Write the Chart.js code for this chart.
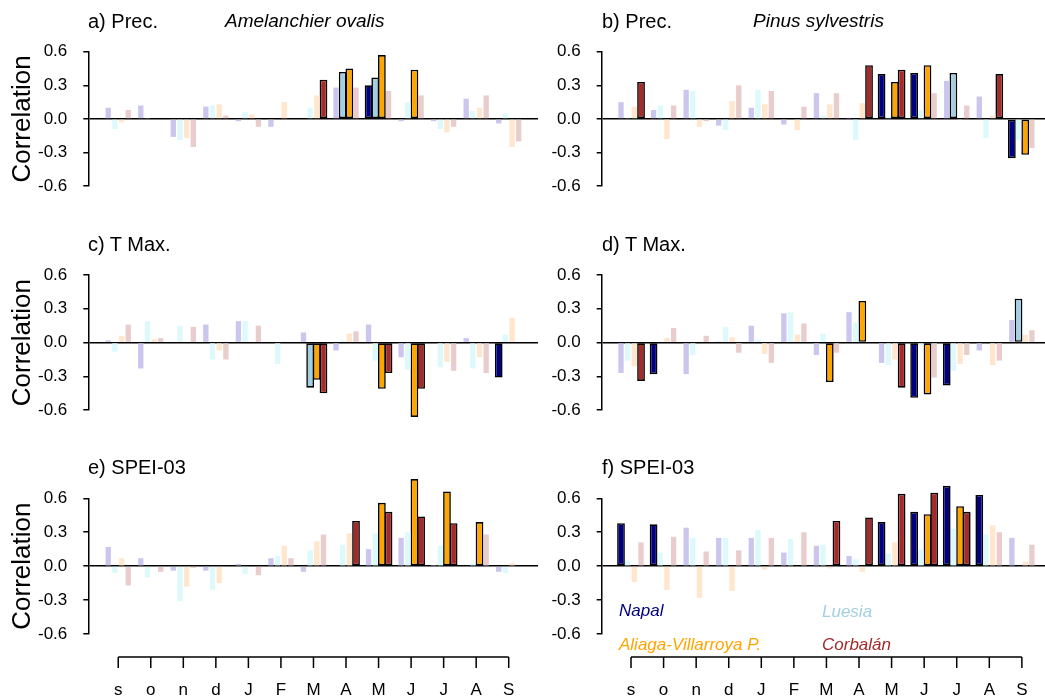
<!DOCTYPE html>
<html>
<head>
<meta charset="utf-8">
<script src="https://cdn.jsdelivr.net/npm/chart.js@4.4.1/dist/chart.umd.min.js"></script>
<style>
  body { margin: 0; background: #fff; }
  #wrap { position: relative; width: 1045px; height: 699px; overflow: hidden; font-family: 'Liberation Sans', Arial, sans-serif; }
  canvas { position: absolute; }
  .t { position: absolute; font-size: 20px; line-height: 20px; color: #000; white-space: nowrap; }
  .sp { font-size: 19px; line-height: 19px; font-style: italic; }
  .lg { position: absolute; font-size: 17px; line-height: 17px; font-style: italic; white-space: nowrap; }
</style>
</head>
<body>
<div id="wrap">
  <canvas id="pa" width="545" height="215" style="left:0;top:0"></canvas>
  <canvas id="pb" width="500" height="215" style="left:545px;top:0"></canvas>
  <canvas id="pc" width="545" height="215" style="left:0;top:223px"></canvas>
  <canvas id="pd" width="500" height="215" style="left:545px;top:223px"></canvas>
  <canvas id="pe" width="545" height="252" style="left:0;top:447px"></canvas>
  <canvas id="pf" width="500" height="252" style="left:545px;top:447px"></canvas>

  <div class="t" style="left:88px;top:10.6px">a) Prec.</div>
  <div class="t sp" style="left:225px;top:11.4px">Amelanchier ovalis</div>
  <div class="t" style="left:602px;top:10.6px">b) Prec.</div>
  <div class="t sp" style="left:753px;top:11.4px">Pinus sylvestris</div>
  <div class="t" style="left:88px;top:233.6px">c) T Max.</div>
  <div class="t" style="left:602px;top:233.6px">d) T Max.</div>
  <div class="t" style="left:88px;top:457px">e) SPEI-03</div>
  <div class="t" style="left:602px;top:457px">f) SPEI-03</div>

  <div class="lg" style="left:619px;top:602px;color:#000080">Napal</div>
  <div class="lg" style="left:822px;top:603px;color:#a3cfe3">Luesia</div>
  <div class="lg" style="left:619px;top:635.5px;color:#ffa500">Aliaga-Villarroya P.</div>
  <div class="lg" style="left:822px;top:635.5px;color:#a52a2a">Corbalán</div>
</div>
<script>
// ---- data ----
const months = ['s', 'o', 'n', 'd', 'J', 'F', 'M', 'A', 'M', 'J', 'J', 'A', 'S'];
const yTicks = [-0.6, -0.3, 0, 0.3, 0.6];
const sites = ['Napal', 'Luesia', 'Aliaga-Villarroya P.', 'Corbalán'];

// a) Prec. - Amelanchier ovalis
const precAmNapal    = [0.10, 0.12, -0.16, 0.11, -0.02, -0.07, 0.00, 0.28, 0.30, -0.02, -0.02, 0.18, -0.04];
const precAmLuesia   = [-0.09, 0.01, -0.19, 0.12, 0.06, 0.00, 0.10, 0.42, 0.37, 0.15, -0.09, 0.07, 0.05];
const precAmAliaga   = [-0.03, 0.00, -0.17, 0.13, 0.04, 0.15, 0.21, 0.45, 0.57, 0.44, -0.12, 0.10, -0.25];
const precAmCorbalan = [0.08, 0.00, -0.25, 0.03, -0.07, 0.00, 0.35, 0.28, 0.25, 0.21, -0.07, 0.21, -0.20];
const precAmSig = [[8], [7, 8], [7, 8, 9], [6]];

// b) Prec. - Pinus sylvestris
const precPsNapal    = [0.15, 0.08, 0.26, -0.06, 0.10, -0.05, 0.23, 0.01, 0.40, 0.41, 0.34, 0.20, -0.35];
const precPsLuesia   = [0.01, 0.12, 0.25, -0.10, 0.26, 0.00, 0.03, -0.19, 0.02, 0.08, 0.41, -0.17, -0.19];
const precPsAliaga   = [0.11, -0.18, -0.07, 0.16, 0.13, -0.10, 0.13, 0.14, 0.33, 0.48, -0.01, 0.03, -0.32];
const precPsCorbalan = [0.33, 0.12, -0.02, 0.30, 0.25, 0.11, 0.23, 0.48, 0.44, 0.23, 0.12, 0.40, -0.26];
const precPsSig = [[8, 9, 12], [10], [8, 9, 12], [0, 7, 8, 11]];

// c) T Max. - Amelanchier ovalis
const tmaxAmNapal    = [0.02, -0.23, 0.00, 0.16, 0.19, 0.00, 0.09, -0.07, 0.16, -0.13, 0.00, 0.04, -0.31];
const tmaxAmLuesia   = [-0.08, 0.19, 0.15, -0.15, 0.19, -0.19, -0.40, 0.02, -0.16, -0.24, -0.22, -0.23, 0.07];
const tmaxAmAliaga   = [0.06, 0.03, 0.00, -0.07, 0.00, 0.01, -0.33, 0.08, -0.41, -0.66, -0.17, -0.13, 0.22];
const tmaxAmCorbalan = [0.16, 0.04, 0.14, -0.15, 0.15, 0.00, -0.45, 0.10, -0.27, -0.41, -0.25, -0.27, 0.00];
const tmaxAmSig = [[12], [6], [6, 8, 9], [6, 8, 9]];

// d) T Max. - Pinus sylvestris
const tmaxPsNapal    = [-0.27, -0.28, -0.28, 0.01, 0.15, 0.26, -0.11, 0.27, -0.18, -0.49, -0.38, -0.07, 0.20];
const tmaxPsLuesia   = [-0.16, 0.00, -0.11, 0.14, 0.03, 0.27, 0.08, 0.18, -0.20, -0.02, -0.25, 0.00, 0.39];
const tmaxPsAliaga   = [-0.21, 0.04, 0.01, 0.05, -0.10, 0.07, -0.35, 0.37, -0.15, -0.46, -0.19, -0.20, 0.07];
const tmaxPsCorbalan = [-0.34, 0.13, 0.06, -0.09, -0.18, 0.17, -0.09, 0.00, -0.40, -0.31, -0.11, -0.16, 0.11];
const tmaxPsSig = [[1, 9, 10], [12], [6, 7, 9], [0, 8]];

// e) SPEI-03 - Amelanchier ovalis
const speiAmNapal    = [0.17, 0.07, -0.04, -0.04, 0.02, 0.07, -0.05, 0.00, 0.15, 0.25, 0.01, 0.00, -0.05];
const speiAmLuesia   = [-0.06, -0.10, -0.31, -0.21, -0.07, 0.09, 0.14, 0.19, 0.29, 0.30, 0.18, 0.03, -0.06];
const speiAmAliaga   = [0.07, 0.00, -0.18, -0.15, 0.00, 0.18, 0.22, 0.29, 0.56, 0.77, 0.66, 0.39, 0.025];
const speiAmCorbalan = [-0.17, -0.05, -0.015, 0.00, -0.08, 0.07, 0.28, 0.40, 0.48, 0.44, 0.38, 0.28, 0.00];
const speiAmSig = [[], [], [8, 9, 10, 11], [7, 8, 9, 10]];

// f) SPEI-03 - Pinus sylvestris
const speiPsNapal    = [0.38, 0.37, 0.34, 0.25, 0.25, 0.12, 0.18, 0.09, 0.39, 0.48, 0.71, 0.63, 0.25];
const speiPsLuesia   = [0.05, 0.12, 0.25, 0.25, 0.32, 0.24, 0.19, 0.06, 0.11, 0.15, 0.33, 0.28, 0.00];
const speiPsAliaga   = [-0.14, -0.21, -0.28, -0.22, -0.03, 0.00, -0.02, -0.05, 0.21, 0.46, 0.53, 0.36, 0.04];
const speiPsCorbalan = [0.21, 0.26, 0.13, 0.14, 0.25, 0.30, 0.40, 0.43, 0.64, 0.65, 0.48, 0.30, 0.19];
const speiPsSig = [[0, 1, 8, 9, 10, 11], [], [9, 10], [6, 7, 8, 9, 10]];

// ---- styles ----
const FONT = "'Liberation Sans', Arial, sans-serif";
const sigColors = ['#000080', '#a3cfe3', '#ffa500', '#a52a2a'];
const fadedColors = ['#cbc6ee', '#ddf9fb', '#ffe6cc', '#e9cdcd'];

Chart.defaults.font.family = FONT;
Chart.defaults.color = '#000';

// draws the s..S month axis under the bottom panels, from the x scale
const monthAxis = {
    id: 'monthAxis',
    afterDraw(chart, args, opts) {
        if (!opts.show) return;
        const { ctx, chartArea, scales: { x } } = chart;
        const y0 = chartArea.bottom + 23;
        ctx.save();
        ctx.strokeStyle = '#000';
        ctx.lineWidth = 1.5;
        ctx.beginPath();
        ctx.moveTo(x.getPixelForValue(0), y0);
        ctx.lineTo(x.getPixelForValue(months.length - 1), y0);
        months.forEach((m, i) => {
            const px = x.getPixelForValue(i);
            ctx.moveTo(px, y0);
            ctx.lineTo(px, y0 + 11);
        });
        ctx.stroke();
        ctx.fillStyle = '#000';
        ctx.font = '17px ' + FONT;
        ctx.textAlign = 'center';
        ctx.textBaseline = 'middle';
        months.forEach((m, i) => ctx.fillText(m, x.getPixelForValue(i), y0 + 33));
        ctx.restore();
    }
};

function buildDatasets(series, sig) {
    const out = [];
    series.forEach((vals, s) => {
        // non-significant (faded) and significant (outlined) share one slot per site
        out.push({
            label: sites[s],
            stack: 'site' + s,
            data: vals.map((v, i) => ({ x: i, y: sig[s].includes(i) ? null : v })),
            backgroundColor: fadedColors[s],
            borderWidth: 0,
            categoryPercentage: 0.82,
            barPercentage: 0.8,
            clip: false
        });
        out.push({
            label: sites[s] + ' (p<0.05)',
            stack: 'site' + s,
            data: vals.map((v, i) => ({ x: i, y: sig[s].includes(i) ? v : null })),
            backgroundColor: sigColors[s],
            borderColor: '#000',
            borderWidth: 1.6,
            borderSkipped: false,
            categoryPercentage: 0.82,
            barPercentage: 1.16,
            clip: false
        });
    });
    return out;
}

function renderPanel(id, series, sig, cfg) {
    const canvas = document.getElementById(id);
    return new Chart(canvas, {
        type: 'bar',
        data: { datasets: buildDatasets(series, sig) },
        plugins: [monthAxis],
        options: {
            responsive: false,
            animation: false,
            events: [],
            layout: {
                padding: {
                    left: 0,
                    right: canvas.width - cfg.areaRight,
                    top: cfg.top,
                    bottom: canvas.height - cfg.bottom
                }
            },
            plugins: {
                legend: { display: false },
                tooltip: { enabled: false },
                monthAxis: { show: !!cfg.months }
            },
            scales: {
                x: {
                    type: 'linear',
                    display: false,
                    offset: false,
                    min: cfg.xMin,
                    max: cfg.xMax,
                    grid: { offset: false },
                    afterBuildTicks: s => { s.ticks = months.map((m, i) => ({ value: i })); }
                },
                y: {
                    min: -0.6,
                    max: 0.6,
                    afterBuildTicks: s => { s.ticks = yTicks.map(v => ({ value: v })); },
                    afterFit: s => { s.width = cfg.axisX; },
                    border: { display: true, color: '#000', width: 1.5 },
                    grid: {
                        color: c => (c.tick && c.tick.value === 0 ? '#000' : 'rgba(0,0,0,0)'),
                        lineWidth: 1.5,
                        tickColor: '#000',
                        tickLength: 5
                    },
                    ticks: {
                        color: '#000',
                        padding: 16,
                        font: { size: 17 },
                        callback: v => v.toFixed(1)
                    },
                    title: {
                        display: cfg.left,
                        text: 'Correlation',
                        color: '#000',
                        font: { size: 26 },
                        padding: { top: 7, bottom: 0 }
                    }
                }
            }
        }
    });
}

const leftCol = { left: true, axisX: 88.3, areaRight: 538, xMin: -0.92, xMax: 12.9 };
const rightCol = { left: false, axisX: 56.7, areaRight: 500, xMin: -0.90, xMax: 12.71 };

renderPanel('pa', [precAmNapal, precAmLuesia, precAmAliaga, precAmCorbalan], precAmSig,
    { ...leftCol, top: 51.7, bottom: 186.2 });
renderPanel('pb', [precPsNapal, precPsLuesia, precPsAliaga, precPsCorbalan], precPsSig,
    { ...rightCol, top: 51.7, bottom: 186.2 });
renderPanel('pc', [tmaxAmNapal, tmaxAmLuesia, tmaxAmAliaga, tmaxAmCorbalan], tmaxAmSig,
    { ...leftCol, top: 52, bottom: 187.2 });
renderPanel('pd', [tmaxPsNapal, tmaxPsLuesia, tmaxPsAliaga, tmaxPsCorbalan], tmaxPsSig,
    { ...rightCol, top: 52, bottom: 187.2 });
renderPanel('pe', [speiAmNapal, speiAmLuesia, speiAmAliaga, speiAmCorbalan], speiAmSig,
    { ...leftCol, top: 51.3, bottom: 187, months: true });
renderPanel('pf', [speiPsNapal, speiPsLuesia, speiPsAliaga, speiPsCorbalan], speiPsSig,
    { ...rightCol, top: 51.3, bottom: 187, months: true });
</script>
</body>
</html>
